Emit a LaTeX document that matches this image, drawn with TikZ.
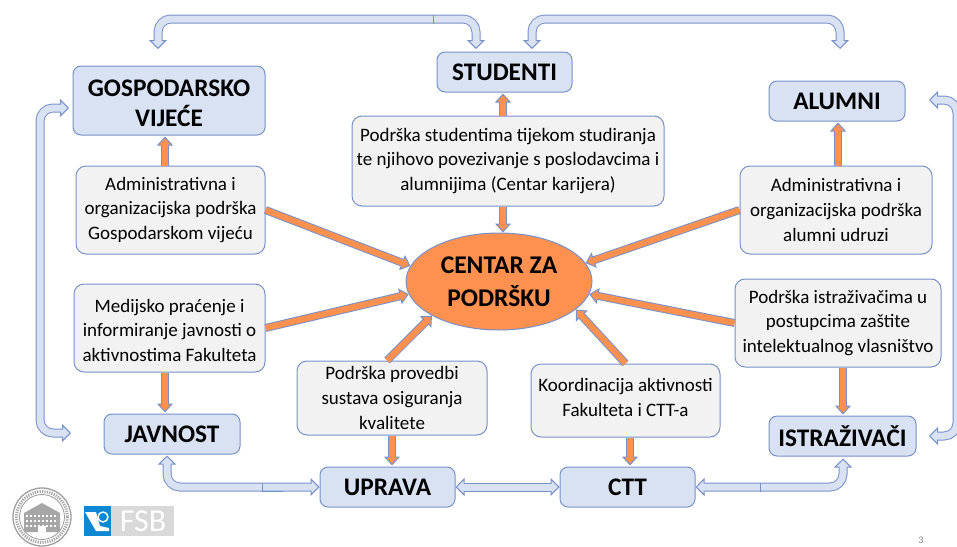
\documentclass[tikz,border=0pt]{standalone}
\usepackage{fontspec}
\setmainfont{Carlito}
\usetikzlibrary{arrows.meta,calc,shapes.geometric}
\definecolor{edgeblue}{HTML}{7690C8}
\definecolor{lightblue}{HTML}{D9E2F3}
\definecolor{paleg}{HTML}{F2F2F2}
\definecolor{orangeA}{HTML}{FF9150}
\tikzset{
 hbox/.style={draw=edgeblue,line width=1pt,fill=lightblue,rounded corners=8pt,inner sep=0pt,align=center,font=\fontsize{25.3}{30}\selectfont\bfseries},
 tbox/.style={draw=edgeblue,line width=1pt,fill=paleg,rounded corners=10pt,inner sep=0pt,align=center,font=\fontsize{19}{24.7}\selectfont},
 core/.style={ellipse,draw=edgeblue,line width=1pt,fill=orangeA,inner sep=0pt,align=center,font=\fontsize{25.5}{33}\selectfont\bfseries},
 oarrow/.style={draw=orangeA,line width=6pt,shorten >=7pt,
   preaction={draw=edgeblue,line width=8pt,shorten >=0pt,-{Triangle[length=9pt,width=16pt,line width=1pt,fill=orangeA,color=edgeblue]}}},
 darrow/.style={draw=lightblue,line width=7pt,rounded corners=13pt,shorten >=7pt,shorten <=7pt,
   preaction={draw=edgeblue,line width=9pt,shorten >=0pt,shorten <=0pt,{Triangle[length=9pt,width=18pt,line width=1pt,fill=lightblue,color=edgeblue]}-{Triangle[length=9pt,width=18pt,line width=1pt,fill=lightblue,color=edgeblue]}}},
 seam/.style={draw=edgeblue,line width=0.9pt},
}
\begin{document}
\begin{tikzpicture}[x=1pt,y=-1pt]
\useasboundingbox (0,0) rectangle (957,546);
\coordinate (t1) at (158,49);
\coordinate (t2) at (476,49);
\coordinate (t3) at (532,49);
\coordinate (t4) at (840,49);
\coordinate (l1) at (69,108);
\coordinate (l2) at (71,433);
\coordinate (r1) at (929,100);
\coordinate (r2) at (929,436);
\node[hbox,minimum width=192pt,minimum height=69pt] (gv) at (169,100.5) {\rule{0pt}{23pt}GOSPODARSKO\\VIJEĆE};
\node[hbox,minimum width=135pt,minimum height=40pt] (st) at (504.5,72) {STUDENTI};
\node[hbox,minimum width=136pt,minimum height=40pt] (al) at (837,101) {ALUMNI};
\node[hbox,minimum width=136pt,minimum height=40pt] (ja) at (172,434) {JAVNOST};
\node[hbox,minimum width=135pt,minimum height=40pt] (up) at (387.5,487) {UPRAVA};
\node[hbox,minimum width=135pt,minimum height=40pt] (ct) at (627.5,487) {CTT};
\node[hbox,minimum width=147pt,minimum height=40pt] (is) at (842.5,436) {ISTRAŽIVAČI};
\node[tbox,minimum width=189pt,minimum height=88pt] (a1) at (170.5,210) {Administrativna i\\organizacijska podrška\\Gospodarskom vijeću};
\node[tbox,minimum width=191pt,minimum height=88pt] (me) at (169.5,328) {\rule{0pt}{18pt}Medijsko praćenje i\\informiranje javnosti o\\aktivnostima Fakulteta};
\node[tbox,minimum width=312pt,minimum height=90pt] (ps) at (508,161) {Podrška studentima tijekom studiranja\\te njihovo povezivanje s poslodavcima i\\alumnijima (Centar karijera)};
\node[tbox,minimum width=192pt,minimum height=88pt] (a2) at (836,210) {Administrativna i\\organizacijska podrška\\alumni udruzi};
\node[tbox,minimum width=206pt,minimum height=88pt] (pi) at (838,323) {Podrška istraživačima u\\postupcima zaštite\\intelektualnog vlasništvo};
\node[tbox,minimum width=190pt,minimum height=74pt] (pr) at (392,398) {Podrška provedbi\\sustava osiguranja\\kvalitete};
\node[tbox,minimum width=189pt,minimum height=73pt] (ko) at (625.5,400.5) {Koordinacija aktivnosti\\Fakulteta i CTT-a\\[-18pt]\mbox{}};
\node[core,minimum width=186pt,minimum height=97pt] (ce) at (499,281.5) {CENTAR ZA\\PODRŠKU};
% orange arrows
\draw[oarrow] ($(a1.north)+(-5.5,0)$) -- ($(gv.south)+(-4,1)$);
\draw[oarrow] ($(ps.north)+(-5,0)$) -- ($(st.south)+(-1.5,1)$);
\draw[oarrow] ($(ps.south)+(-5,0)$) -- ($(ce.north)+(4,0)$);
\draw[oarrow] ($(a2.north)+(2,0)$) -- ($(al.south)+(1,1)$);
\draw[oarrow] (a1.east) -- (ce.170);
\draw[oarrow] (me.east) -- (ce.188);
\draw[oarrow] ($(me.south)+(-4.5,0)$) -- ($(ja.north)+(-7,-1)$);
\draw[oarrow] ($(pr.north)+(-5,0)$) -- (ce.207);
\draw[oarrow] (pr.south) -- ($(up.north)+(4.5,-1)$);
\draw[oarrow] (ko.north) -- (ce.340);
\draw[oarrow] ($(ko.south)+(4.5,0)$) -- ($(ct.north)+(2.5,-1)$);
\draw[oarrow] (a2.west) -- (ce.12);
\draw[oarrow] (pi.west) -- (ce.352);
\draw[oarrow] ($(pi.south)+(5,0)$) -- ($(is.north)+(0.5,-1)$);
% blue arrows
\draw[darrow] (t1) -- ++(0,-30) -| (t2);
\draw[darrow] (t3) -- ++(0,-30) -| (t4);
\draw[darrow] (l1) -- ++(-29,0) |- (l2);
\draw[darrow] (r1) -- ++(28,0) |- (r2);
\draw[darrow] ($(ja.south)+(-5,1)$) |- (up.west);
\draw[darrow] (up.east) -- (ct.west);
\draw[darrow] (ct.east) -| ($(is.south)+(0.5,2)$);
% seams in the double arrows
\draw[seam] (433,14.5) -- (433,23.5);
\draw[seam] (760,483) -- (760,492);
\draw[seam] (262,482.5) -- (262,491.5) -- (283,491.5);
% logos
\draw[gray!75,line width=1.3pt,fill=white] (42,517) circle (29);
\draw[gray!70,line width=3pt,dash pattern=on 1.2pt off 1.2pt] (42,517) circle (25.5);
\draw[gray!80,line width=0.8pt] (42,517) circle (22.5);
\fill[gray!70] (24,513) -- (42,503) -- (60,513) -- (60,532) -- (24,532) -- cycle;
\foreach \r in {516,521,526}{\draw[white,line width=1.2pt,dash pattern=on 2pt off 2pt] (26,\r) -- (58,\r);}
\fill[white] (38,526) rectangle (46,532);
\fill[gray!30] (111,506) rectangle (174,536);
\fill[cyan!70!blue] (84,506) rectangle (111,536);
\fill[white] (85,512) -- (96,512) -- (100,526) -- (109,528) -- (109,531) -- (96,531) -- cycle;
\draw[white,line width=1.4pt,fill=cyan!70!blue] (103,517) circle (5);
\node[text=white,inner sep=0pt,font=\fontsize{32}{32}\selectfont] (fsb) at (143,521) {FSB};
\node[text=gray,inner sep=0pt,font=\fontsize{10}{10}\selectfont] (pg) at (921,540) {3};
\end{tikzpicture}
\end{document}
